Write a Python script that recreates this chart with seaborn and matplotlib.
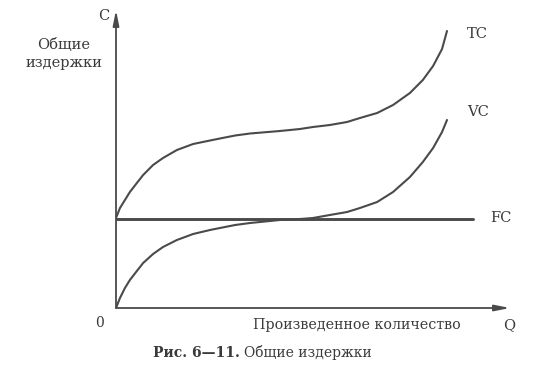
import matplotlib
matplotlib.use("Agg")
import matplotlib.pyplot as plt
import seaborn as sns
import pandas as pd

# Quantity (arbitrary units) and cost values
q_vals = [0, 0.12, 0.27, 0.42, 0.63, 0.82, 1.12, 1.42, 1.84, 2.33, 2.84, 3.14, 3.6, 4.05,
          4.95, 5.56, 5.95, 6.46, 6.98, 7.37, 7.89, 8.37, 8.88, 9.27, 9.58, 9.85, 10.0]
tc_vals = [9.0, 10.0, 10.8, 11.6, 12.5, 13.3, 14.3, 15.0, 15.8, 16.4, 16.75, 16.95, 17.25, 17.45,
           17.7, 17.9, 18.1, 18.3, 18.6, 19.0, 19.5, 20.3, 21.5, 22.8, 24.2, 25.9, 27.7]
vc_vals = [0, 1.0, 2.0, 2.8, 3.7, 4.5, 5.4, 6.1, 6.8, 7.4, 7.8, 8.0, 8.3, 8.5,
           8.8, 8.9, 9.0, 9.3, 9.6, 10.0, 10.6, 11.6, 13.1, 14.6, 16.0, 17.6, 18.8]
fc_q = [0, 10.8]
fc_vals = [8.9, 8.9]

series_labels = ["TC", "VC", "FC"]
y_label = "Общие\nиздержки"
x_label = "Произведенное количество"
caption_bold = "Рис. 6—11."
caption_rest = "Общие издержки"

sns.set_style("white")
plt.rcParams['font.family'] = ['DejaVu Serif', 'DejaVu Sans']

W, H = 542, 370
fig = plt.figure(figsize=(W / 100, H / 100), dpi=100)
ax = fig.add_axes([116 / W, (H - 308) / H, 394 / W, 298 / H])
ax.set_xlim(0, 394 / 33.1)
ax.set_ylim(0, 29.8)

col = "#4a4a4a"
lw = 1.5
df_tc = pd.DataFrame({"Q": q_vals, "C": tc_vals})
df_vc = pd.DataFrame({"Q": q_vals, "C": vc_vals})
df_fc = pd.DataFrame({"Q": fc_q, "C": fc_vals})
line_kw = dict(solid_joinstyle="round", solid_capstyle="round")
sns.lineplot(data=df_tc, x="Q", y="C", ax=ax, color=col, lw=lw, sort=False, **line_kw)
sns.lineplot(data=df_vc, x="Q", y="C", ax=ax, color=col, lw=lw, sort=False, **line_kw)
sns.lineplot(data=df_fc, x="Q", y="C", ax=ax, color=col, lw=lw + 0.6, sort=False)

for s in ax.spines.values():
    s.set_visible(False)
ax.set_xticks([])
ax.set_yticks([])
ax.set_xlabel("")
ax.set_ylabel("")

arrow_kw = dict(arrowstyle="-|>,head_length=0.9,head_width=0.18", color=col, lw=1.3,
                shrinkA=0, shrinkB=0)
ax.annotate("", xy=(1, 0), xytext=(0, 0), xycoords="axes fraction", arrowprops=arrow_kw)
ax.annotate("", xy=(0, 1), xytext=(0, 0), xycoords="axes fraction", arrowprops=arrow_kw)

tcol = "#3a3a3a"
# series labels at line ends
ax.text(10.0 + 0.6, tc_vals[-1] - 0.3, series_labels[0], color=tcol, fontsize=10.5, va="center", ha="left")
ax.text(10.0 + 0.6, vc_vals[-1] + 0.8, series_labels[1], color=tcol, fontsize=10.5, va="center", ha="left")
ax.text(fc_q[-1] + 0.5, fc_vals[-1] + 0.1, series_labels[2], color=tcol, fontsize=10.5, va="center", ha="left")


def fx(x):
    return x / W


def fy(y):
    return 1 - y / H


fig.text(fx(104), fy(16), "C", color=tcol, fontsize=10.5, ha="center", va="center")
fig.text(fx(64), fy(54), y_label, color=tcol, fontsize=10.5, ha="center", va="center",
         linespacing=1.45)
fig.text(fx(100), fy(323), "0", color=tcol, fontsize=10, ha="center", va="center")
fig.text(fx(357), fy(325), x_label, color=tcol, fontsize=10.3, ha="center", va="center")
fig.text(fx(509), fy(325), "Q", color=tcol, fontsize=10.5, ha="center", va="center")
fig.text(fx(240), fy(353), caption_bold, color=tcol, fontsize=10, ha="right", va="center",
         fontweight="bold")
fig.text(fx(244), fy(353), caption_rest, color=tcol, fontsize=10, ha="left", va="center")

fig.savefig("out.png", dpi=100)
